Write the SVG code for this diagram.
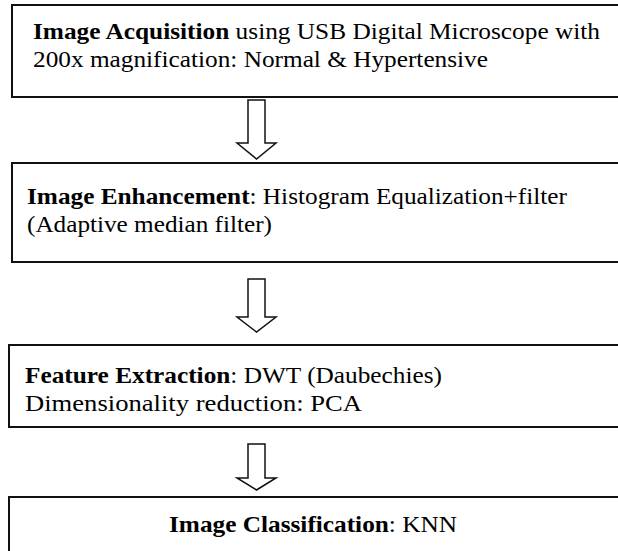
<svg xmlns="http://www.w3.org/2000/svg" width="618" height="551" viewBox="0 0 618 551">
<style>
.box{fill:#fff;stroke:#111;stroke-width:2}
.arr{fill:#fff;stroke:#111;stroke-width:1.5;stroke-linejoin:miter}
.t{font-family:'Liberation Serif','DejaVu Serif',serif;font-size:24px;fill:#000}
.b{font-weight:bold}
</style>
<rect width="618" height="551" fill="#fff"/>
<g id="connectors">
<path class="arr" d="M248,100 H265 V143 H276 L256.5,159 L237,143 H248 Z"/>
<path class="arr" d="M248,279 H265 V317 H276 L256.5,332 L237,317 H248 Z"/>
<path class="arr" d="M248,444 H265 V478 H276 L256.5,490 L237,478 H248 Z"/>
</g>
<g id="node-acquisition">
<rect class="box" x="12" y="5" width="620" height="92"/>
<text class="t" x="33" y="39" textLength="567" lengthAdjust="spacingAndGlyphs"><tspan class="b">Image Acquisition</tspan> using USB Digital Microscope with</text>
<text class="t" x="33" y="67" textLength="455" lengthAdjust="spacingAndGlyphs">200x magnification: Normal &amp; Hypertensive</text>
</g>
<g id="node-enhancement">
<rect class="box" x="12" y="163" width="620" height="99"/>
<text class="t" x="27" y="204" textLength="540" lengthAdjust="spacingAndGlyphs"><tspan class="b">Image Enhancement</tspan>: Histogram Equalization+filter</text>
<text class="t" x="27" y="232" textLength="245" lengthAdjust="spacingAndGlyphs">(Adaptive median filter)</text>
</g>
<g id="node-extraction">
<rect class="box" x="9" y="345" width="620" height="82"/>
<text class="t" x="25" y="383" textLength="417" lengthAdjust="spacingAndGlyphs"><tspan class="b">Feature Extraction</tspan>: DWT (Daubechies)</text>
<text class="t" x="25" y="411" textLength="337" lengthAdjust="spacingAndGlyphs">Dimensionality reduction: PCA</text>
</g>
<g id="node-classification">
<rect class="box" x="9" y="497" width="620" height="70"/>
<text class="t" x="169" y="532" textLength="288" lengthAdjust="spacingAndGlyphs"><tspan class="b">Image Classification</tspan>: KNN</text>
</g>
</svg>
